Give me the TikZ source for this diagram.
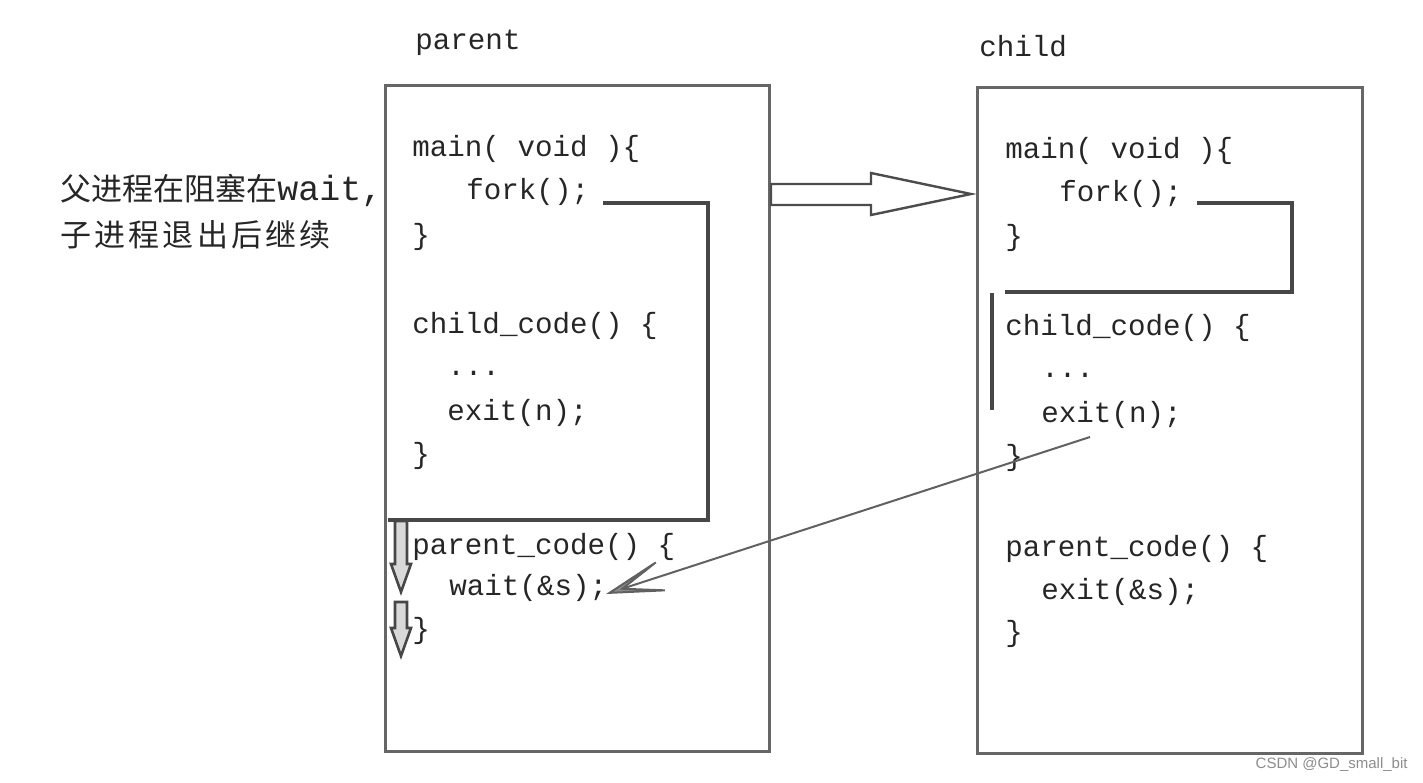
\documentclass[tikz,border=0pt]{standalone}
\usepackage{fontspec}
\setmonofont{Liberation Mono}
\newfontfamily\cjk{Noto Sans CJK SC}
\newfontfamily\wmfont{Liberation Sans}
\usetikzlibrary{arrows.meta}
\begin{document}
\begin{tikzpicture}[x=0.5pt,y=-0.5pt,
  code/.style={anchor=west, inner sep=0pt, font=\ttfamily\fontsize{14.6}{17}\selectfont, text=black!85},
  cn/.style={anchor=west, inner sep=0pt, font=\cjk\fontsize{15.5}{18}\selectfont, text=black!85},
  procbox/.style={draw=black!60, line width=1.5pt},
  flowline/.style={draw=black!72, line width=2pt},
  fatarrow/.style={draw=black!72, line width=1.3pt, fill=black!15},
  hollowarrow/.style={draw=black!70, line width=1.2pt, fill=white},
  exitarrow/.style={draw=black!62, line width=1pt, -{Stealth[length=40pt,width=22pt,inset=30pt,fill=black!45]}},
]
\useasboundingbox (0,0) rectangle (1423,782);

% boxes
\draw[procbox] (385,85) rectangle (769,751);
\draw[procbox] (977,87) rectangle (1362,753);

% titles
\node[code] (ptitle) at (415,43) {parent};
\node[code] (ctitle) at (979,46) {child};

% left text
\node[code] (pmain)   at (412,149) {main( void )\{};
\node[code] (pfork)   at (466,192) {fork();};
\node[code] (pend1)   at (412,237) {\}};
\node[code] (pchild)  at (412,326) {child\_code() \{};
\node[code] (pdots)   at (447,373) {...};
\node[code] (pexit)   at (447,413) {exit(n);};
\node[code] (pend2)   at (412,456) {\}};
\node[code] (pparent) at (412,547) {parent\_code() \{};
\node[code] (pwait)   at (449,588) {wait(\&s);};
\node[code] (pend3)   at (412,631) {\}};

% right text
\node[code] (cmain)   at (1005,151) {main( void )\{};
\node[code] (cfork)   at (1059,194) {fork();};
\node[code] (cend1)   at (1005,238) {\}};
\node[code] (cchild)  at (1005,328) {child\_code() \{};
\node[code] (cdots)   at (1041,375) {...};
\node[code] (cexit)   at (1041,415) {exit(n);};
\node[code] (cend2)   at (1005,458) {\}};
\node[code] (cparent) at (1005,549) {parent\_code() \{};
\node[code] (cexits)  at (1041,592) {exit(\&s);};
\node[code] (cend3)   at (1005,634) {\}};

% chinese note
\node[cn] (note1) at (60,190) {父进程在阻塞在{\ttfamily\fontsize{17.5}{18}\selectfont wait,}};
\node[cn] (note2) at (60,235) {子\kern1.6pt 进\kern1.6pt 程\kern1.6pt 退\kern1.6pt 出\kern1.6pt 后\kern1.6pt 继\kern1.6pt 续};

% left flow bracket
\coordinate (pf) at (603,203);
\draw[flowline] (pf) -- (708,203) -- (708,520) -- (388,520);

% left down arrows
\draw[fatarrow] (395,521) -- (407,521) -- (407,564) -- (411,564) -- (401,592) -- (391,564) -- (395,564) -- cycle;
\draw[fatarrow] (395,602) -- (407,602) -- (407,628) -- (411,628) -- (401,656) -- (391,628) -- (395,628) -- cycle;

% right flow bracket
\coordinate (cf) at (1197,203);
\draw[flowline] (cf) -- (1292,203) -- (1292,292) -- (1005,292);
\draw[flowline] (992,293) -- (992,410);

% fork hollow arrow
\draw[hollowarrow] (771,184) -- (871,184) -- (871,173) -- (971,194) -- (871,215) -- (871,205) -- (771,205) -- cycle;

% exit -> wait arrow
\coordinate (ex) at (1090,437);
\coordinate (wt) at (606,594);
\draw[exitarrow] (ex) -- (wt);

% watermark
\node[anchor=east, inner sep=0pt, font=\wmfont\fontsize{7.5}{9}\selectfont, text=black!45] (wm) at (1408,765) {CSDN @GD\_small\_bit};
\end{tikzpicture}
\end{document}
